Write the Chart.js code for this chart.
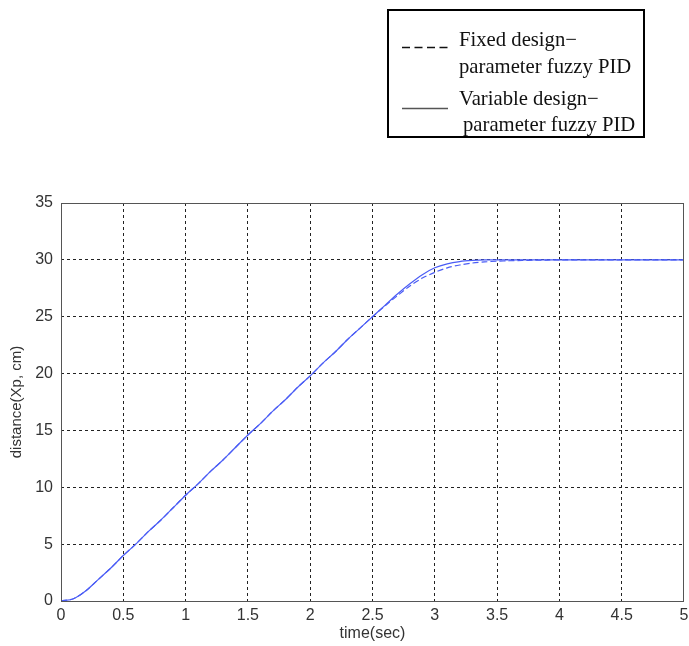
<!DOCTYPE html>
<html>
<head>
<meta charset="utf-8">
<script src="https://cdn.jsdelivr.net/npm/chart.js@4.4.0/dist/chart.umd.min.js"></script>
<style>
  html, body { margin: 0; padding: 0; background: #fff; }
  #wrap { position: relative; width: 689px; height: 646px; }
</style>
</head>
<body>
<div id="wrap"><canvas id="c" width="689" height="646"></canvas></div>
<script>
// ---- data ----
const times = [0, 0.1, 0.2, 0.3, 0.4, 0.5, 0.6, 0.7, 0.8, 0.9, 1.0, 1.1, 1.2, 1.3, 1.4, 1.5, 1.6, 1.7, 1.8, 1.9, 2.0, 2.1, 2.2, 2.3, 2.4, 2.5, 2.6, 2.7, 2.8, 2.9, 3.0, 3.1, 3.2, 3.3, 3.4, 3.5, 3.6, 3.7, 3.8, 3.9, 4.0, 4.5, 5.0];
const variableValues = [0, 0.2, 0.9, 1.9, 2.9, 4.0, 5.0, 6.1, 7.1, 8.2, 9.3, 10.3, 11.4, 12.4, 13.5, 14.6, 15.6, 16.7, 17.7, 18.8, 19.8, 20.9, 21.9, 23.0, 24.0, 25.0, 26.0, 27.0, 27.9, 28.7, 29.3, 29.65, 29.85, 29.95, 30.0, 30.0, 30.0, 30.0, 30.0, 30.0, 30.0, 30.0, 30.0];
const fixedValues = [0, 0.2, 0.9, 1.9, 2.9, 4.0, 5.0, 6.1, 7.1, 8.2, 9.3, 10.3, 11.4, 12.4, 13.5, 14.6, 15.6, 16.7, 17.7, 18.8, 19.8, 20.9, 21.9, 23.0, 24.0, 25.0, 25.95, 26.85, 27.7, 28.4, 28.9, 29.3, 29.55, 29.72, 29.82, 29.88, 29.92, 29.95, 29.97, 29.98, 30.0, 30.0, 30.0];
const xTicks = [0, 0.5, 1, 1.5, 2, 2.5, 3, 3.5, 4, 4.5, 5];
const yTicks = [0, 5, 10, 15, 20, 25, 30, 35];
const legendLines = [["Fixed design\u2212", "parameter fuzzy PID"], ["Variable design\u2212", "parameter fuzzy PID"]];
const xTitle = "time(sec)";
const yTitle = "distance(Xp, cm)";

const toPoints = (vals) => times.map((t, i) => ({ x: t, y: vals[i] }));
const SANS = '"Liberation Sans", Arial, sans-serif';

const boxPlugin = {
  id: 'boxPlugin',
  afterDatasetsDraw(chart) {
    const { ctx, chartArea: a } = chart;
    ctx.save();
    ctx.strokeStyle = '#555';
    ctx.lineWidth = 1;
    ctx.strokeRect(a.left + 0.5, a.top + 0.5, a.right - a.left - 1, a.bottom - a.top);
    ctx.restore();
  }
};

const legendPlugin = {
  id: 'legendPlugin',
  afterDraw(chart) {
    const ctx = chart.ctx;
    ctx.save();
    ctx.strokeStyle = '#000';
    ctx.lineWidth = 2;
    ctx.strokeRect(388, 10, 256, 127);
    ctx.font = '20.7px "Liberation Serif", "DejaVu Serif", serif';
    ctx.fillStyle = '#111';
    ctx.textBaseline = 'alphabetic';
    ctx.textAlign = 'left';
    ctx.fillText(legendLines[0][0], 459, 46);
    ctx.fillText(legendLines[0][1], 459, 73);
    ctx.fillText(legendLines[1][0], 459, 105);
    ctx.fillText(legendLines[1][1], 463, 131);
    // samples
    ctx.lineWidth = 1.5;
    ctx.strokeStyle = '#111';
    ctx.setLineDash([8, 4.5]);
    ctx.beginPath(); ctx.moveTo(402, 47.5); ctx.lineTo(448, 47.5); ctx.stroke();
    ctx.setLineDash([]);
    ctx.strokeStyle = '#555';
    ctx.beginPath(); ctx.moveTo(402, 108.5); ctx.lineTo(448, 108.5); ctx.stroke();
    ctx.restore();
  }
};

const gridColor = (ctx, max) => {
  const v = ctx.tick && ctx.tick.value;
  if (v === 0 || v === max) return 'rgba(0,0,0,0)';
  return '#222';
};

new Chart(document.getElementById('c'), {
  type: 'line',
  data: {
    datasets: [
      {
        label: 'Fixed design-parameter fuzzy PID',
        data: toPoints(fixedValues),
        borderColor: '#4a5cf5',
        borderWidth: 1.2,
        borderDash: [6, 3],
        pointRadius: 0,
        tension: 0.3,
        fill: false
      },
      {
        label: 'Variable design-parameter fuzzy PID',
        data: toPoints(variableValues),
        borderColor: '#4a5cf5',
        borderWidth: 1.2,
        pointRadius: 0,
        tension: 0.3,
        fill: false
      }
    ]
  },
  options: {
    responsive: false,
    animation: false,
    devicePixelRatio: 1,
    layout: { padding: { top: 203, right: 5, left: 0, bottom: 0 } },
    plugins: { legend: { display: false }, tooltip: { enabled: false } },
    scales: {
      x: {
        type: 'linear',
        min: 0, max: 5,
        afterBuildTicks: (s) => { s.ticks = xTicks.map(v => ({ value: v })); },
        afterFit: (s) => { s.height = 45; s.paddingLeft = 0; s.paddingRight = 0; },
        ticks: {
          color: '#333',
          font: { family: SANS, size: 16 },
          padding: 5,
          maxRotation: 0,
          callback: (v) => String(v)
        },
        grid: {
          color: (c) => gridColor(c, 5),
          lineWidth: 1,
          drawTicks: false
        },
        border: { display: false, dash: [3, 3] },
        title: {
          display: true, text: xTitle, color: '#333',
          font: { family: SANS, size: 16 },
          padding: { top: 0, bottom: 3 }
        }
      },
      y: {
        type: 'linear',
        min: 0, max: 35,
        afterBuildTicks: (s) => { s.ticks = yTicks.map(v => ({ value: v })); },
        afterFit: (s) => { s.width = 61; s.paddingTop = 0; s.paddingBottom = 0; },
        ticks: {
          color: '#333',
          font: { family: SANS, size: 16 },
          padding: 8,
          callback: (v) => String(v)
        },
        grid: {
          color: (c) => gridColor(c, 35),
          lineWidth: 1,
          drawTicks: false
        },
        border: { display: false, dash: [3, 3] },
        title: {
          display: true, text: yTitle, color: '#333',
          font: { family: SANS, size: 15 },
          padding: { top: 8, bottom: 0 }
        }
      }
    }
  },
  plugins: [boxPlugin, legendPlugin]
});
</script>
</body>
</html>
